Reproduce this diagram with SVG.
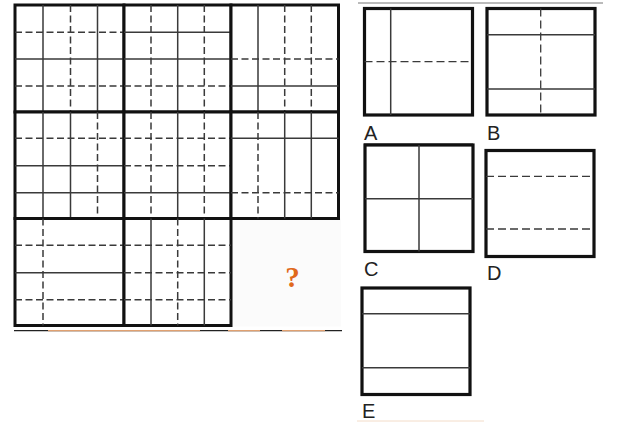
<svg xmlns="http://www.w3.org/2000/svg" width="623" height="428" viewBox="0 0 623 428">
<style>
.cell{fill:#fff;stroke:#111;stroke-width:3}
.s{stroke:#3a3a3a;stroke-width:1.5;fill:none}
.d{stroke:#3a3a3a;stroke-width:1.5;fill:none;stroke-dasharray:7 3.5}
.d2{stroke:#3a3a3a;stroke-width:1.3;fill:none;stroke-dasharray:8 4}
.opt{fill:#fff;stroke:#111;stroke-width:3.2}
.lbl{font-family:"Liberation Sans",Arial,sans-serif;font-size:20px;fill:#222}
</style>
<rect width="623" height="428" fill="#fff"/>
<g id="cell-empty"><rect x="231" y="218.5" width="110" height="108" fill="#fbfbfb"/>
<text x="292.5" y="287" text-anchor="middle" font-family="Liberation Serif,serif" font-weight="bold" font-size="29" fill="#e0691c">?</text></g>
<g id="cell1"><rect class="cell" x="15" y="5" width="109" height="107"/>
<path class="s" d="M43 5V112M97.5 5V112M15 59H124"/><path class="d" d="M70.5 5V112M15 32.3H124M15 86H124"/></g>
<g id="cell2"><rect class="cell" x="124" y="5" width="107" height="107"/>
<path class="s" d="M177.7 5V112M124 32.3H231M124 59H231"/><path class="d" d="M151 5V112M204.3 5V112M124 86H231"/></g>
<g id="cell3"><rect class="cell" x="231" y="5" width="107.5" height="107"/>
<path class="s" d="M258 5V112M231 86H338.5"/><path class="d" d="M284.7 5V112M311.3 5V112M231 59H338.5"/></g>
<g id="cell4"><rect class="cell" x="15" y="112" width="109" height="106.5"/>
<path class="s" d="M43 112V218.5M70.5 112V218.5M15 165.7H124M15 192.7H124"/><path class="d" d="M97.5 112V218.5M15 138.3H124"/></g>
<g id="cell5"><rect class="cell" x="124" y="112" width="107" height="106.5"/>
<path class="s" d="M177.7 112V218.5M124 192.7H231"/><path class="d" d="M151 112V218.5M204.3 112V218.5M124 138.3H231M124 165.7H231"/></g>
<g id="cell6"><rect class="cell" x="231" y="112" width="107.5" height="106.5"/>
<path class="s" d="M284.7 112V218.5M311.3 112V218.5M231 138.3H338.5"/><path class="d" d="M258 112V218.5M231 192.7H338.5"/></g>
<g id="cell7"><rect class="cell" x="15" y="218.5" width="109" height="107"/>
<path class="s" d="M15 272.7H124"/><path class="d" d="M43 218.5V325.5M15 245.3H124M15 299.7H124"/></g>
<g id="cell8"><rect class="cell" x="124" y="218.5" width="107" height="107"/>
<path class="s" d="M151 218.5V325.5M204.3 218.5V325.5"/><path class="d" d="M177.7 218.5V325.5M124 245.3H231M124 272.7H231M124 299.7H231"/></g>
<g id="baseline" stroke-width="1.3">
<path d="M14 330.7H342" stroke="#222"/>
<path d="M48 330.7H200M228 330.7H260M282 330.7H325" stroke="#e0a070"/>
</g>
<path d="M358 3H603" stroke="#777" stroke-width="1"/>
<g id="optA"><rect class="opt" x="364.5" y="8.5" width="108" height="106.5"/>
<path class="s" d="M390.7 8.5V115"/><path class="d2" d="M364.5 61.7H472.5"/>
<text class="lbl" x="364" y="140">A</text>
<path d="M364 144H473" stroke="#222" stroke-width="1.2"/></g>
<g id="optB"><rect class="opt" x="487" y="8.5" width="108" height="106.5"/>
<path class="s" d="M487 34.7H595M487 89H595"/><path class="d2" d="M540.7 8.5V115"/>
<text class="lbl" x="487" y="140">B</text></g>
<g id="optC"><rect class="opt" x="365" y="145" width="108" height="106.5"/>
<path class="s" d="M419 145V251.5M365 198.7H473"/>
<text class="lbl" x="364" y="276">C</text></g>
<g id="optD"><rect class="opt" x="486" y="150.5" width="108" height="106"/>
<path class="d2" d="M486 176.3H594M486 229H594"/>
<text class="lbl" x="487" y="280">D</text></g>
<g id="optE"><rect class="opt" x="362" y="288" width="108" height="106.5"/>
<path class="s" d="M362 313.7H470M362 367.7H470"/>
<text class="lbl" x="362" y="418">E</text>
<path d="M357 421H484" stroke="#f3dcc8" stroke-width="1"/></g>
</svg>
